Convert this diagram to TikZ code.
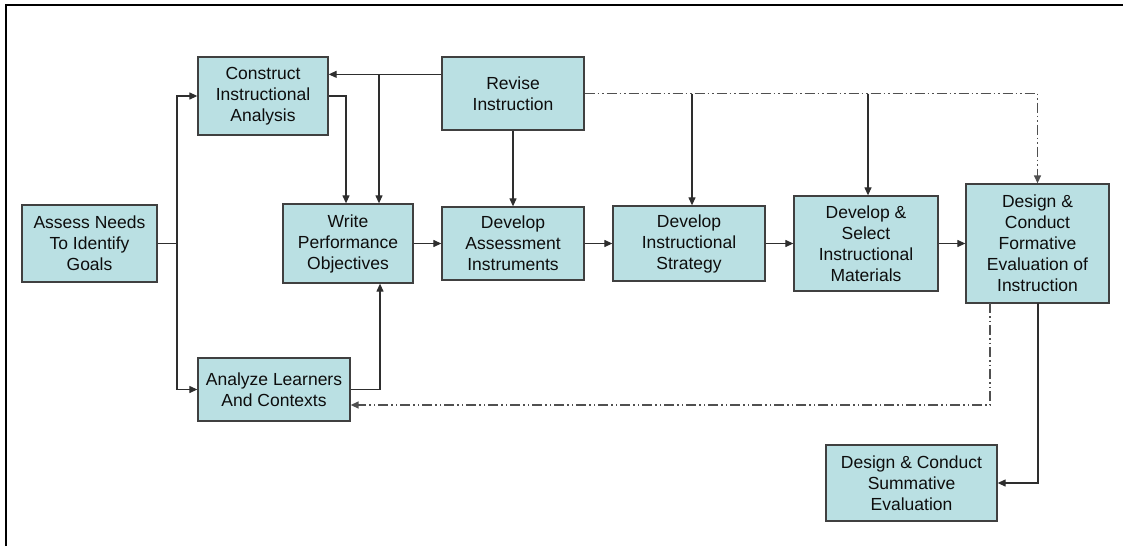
\documentclass[tikz,border=0pt]{standalone}
\usepackage{fontspec}
\setmainfont{Liberation Sans}
\usetikzlibrary{arrows.meta,calc}
\definecolor{boxfill}{HTML}{BAE0E3}
\definecolor{boxline}{HTML}{404040}
\definecolor{conn}{HTML}{2E2E2E}
\definecolor{dashc}{HTML}{505050}
\begin{document}
\begin{tikzpicture}[x=1pt,y=-1pt,
  stepbox/.style={draw=boxline,line width=1.3pt,fill=boxfill,inner sep=0pt,
    align=center,text=black!95,font=\fontsize{17.5}{21}\selectfont},
  conn/.style={draw=conn,line width=1.2pt},
  arr/.style={conn,-{Triangle[length=8pt,width=7pt]}},
  ddot/.style={draw=dashc,line width=1.4pt,
    dash pattern=on 10pt off 3pt on 1.5pt off 3pt on 1.5pt off 3pt}]
\useasboundingbox (0,0) rectangle (1123,546);
\draw[line width=2pt,black] (6,546) -- (6,5) -- (1123,5);

\node[stepbox,minimum width=135pt,minimum height=77pt] (assess) at (89.5,243.5) {Assess Needs\\To Identify\\Goals};
\node[stepbox,minimum width=130pt,minimum height=78pt] (construct) at (263,96) {Construct\\Instructional\\Analysis};
\node[stepbox,minimum width=142pt,minimum height=73pt] (revise) at (513,93.5) {Revise\\Instruction};
\node[stepbox,minimum width=130pt,minimum height=79pt] (write) at (348,243.5) {Write\\Performance\\Objectives};
\node[stepbox,minimum width=152pt,minimum height=63pt] (analyze) at (274,389.5) {Analyze Learners\\And Contexts};
\node[stepbox,minimum width=142pt,minimum height=73pt] (assessment) at (513,243.5) {Develop\\Assessment\\Instruments};
\node[stepbox,minimum width=152pt,minimum height=75pt] (strategy) at (689,243.5) {Develop\\Instructional\\Strategy};
\node[stepbox,minimum width=144pt,minimum height=95pt] (materials) at (866,243.5) {Develop \&\\Select\\Instructional\\Materials};
\node[stepbox,minimum width=143pt,minimum height=119pt] (formative) at (1037.5,243.5) {Design \&\\Conduct\\Formative\\Evaluation of\\Instruction};
\node[stepbox,minimum width=171pt,minimum height=76pt] (summative) at (911.5,483) {Design \& Conduct\\Summative\\Evaluation};

% coordinates
\coordinate (j1) at (177,243.5);
\coordinate (rv) at ($(revise.north west)+(0,18)$);
\coordinate (rb) at (379,75);
\coordinate (b1) at (692,93.5);
\coordinate (b2) at (868,93.5);
\coordinate (fb1) at (990,303);
\coordinate (fc1) at (990,405);
\coordinate (fb2) at (1038,303);

% assess to construct / analyze
\draw[conn] (assess.east) -- (j1);
\draw[arr] (j1) |- (construct.west);
\draw[arr] (j1) |- (analyze.west);
% construct to write
\draw[arr] (construct.east) -| ($(write.north)+(-2,0)$);
% revise to construct and write
\draw[arr] (rv) -- (construct.east |- rv);
\draw[arr] (rb) -- (write.north -| rb);
% analyze to write
\draw[arr] (analyze.east) -| ($(write.south)+(32,0)$);
% main chain
\draw[arr] (write) -- (assessment);
\draw[arr] (assessment) -- (strategy);
\draw[arr] (strategy) -- (materials);
\draw[arr] (materials) -- (formative);
% revise down
\draw[arr] (revise) -- (assessment);
% revise dash-dot to formative
\draw[ddot,-{Triangle[length=8pt,width=7pt]}] (revise.east) -| (formative.north);
\draw[arr] (b1) -- (strategy.north -| b1);
\draw[arr] (b2) -- (materials.north -| b2);
% formative back to analyze
\draw[ddot,-{Triangle[length=8pt,width=7pt]}] (fb1) -- (fc1) -- (analyze.east |- fc1);
% formative to summative
\draw[arr] (fb2) |- (summative.east);
\end{tikzpicture}
\end{document}
